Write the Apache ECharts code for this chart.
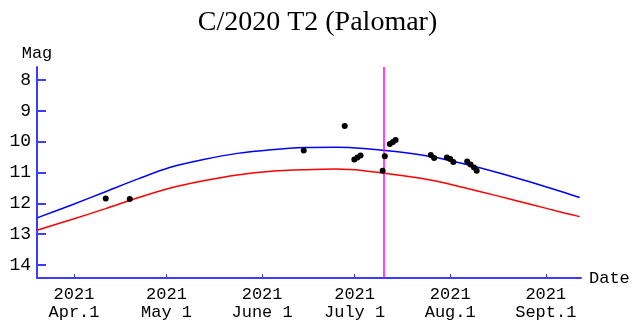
<!DOCTYPE html>
<html>
<head>
<meta charset="utf-8">
<script src="https://cdn.jsdelivr.net/npm/echarts@6/dist/echarts.min.js"></script>
<style>
  html, body { margin: 0; padding: 0; background: #ffffff; }
  #chart { width: 635px; height: 322px; }
</style>
</head>
<body>
<div id="chart"></div>
<script>
// Predicted magnitude curves (shared date grid)
const curveDates = ['2021-03-20', '2021-03-31', '2021-04-11', '2021-04-22', '2021-05-02', '2021-05-13',
  '2021-05-24', '2021-06-04', '2021-06-15', '2021-06-25', '2021-07-04', '2021-07-15',
  '2021-07-26', '2021-08-05', '2021-08-16', '2021-08-27', '2021-09-07', '2021-09-12'];
const blueMag = [12.47, 12.06, 11.63, 11.20, 10.84, 10.58, 10.38, 10.26, 10.19, 10.18, 10.22, 10.33,
  10.49, 10.71, 10.99, 11.31, 11.65, 11.81];
const redMag = [12.87, 12.53, 12.18, 11.81, 11.51, 11.27, 11.08, 10.96, 10.91, 10.89, 10.94, 11.08,
  11.25, 11.48, 11.75, 12.03, 12.31, 12.43];

// Observed magnitudes
const obsDates = ['2021-04-11T07:00', '2021-04-19T02:00', '2021-06-14T12:00', '2021-06-27T19:00',
  '2021-06-30T22:00', '2021-07-01T22:00', '2021-07-02T22:00', '2021-07-10T02:00', '2021-07-10T19:00',
  '2021-07-12T10:00', '2021-07-13T10:00', '2021-07-14T07:00', '2021-07-25T17:00', '2021-07-26T19:00',
  '2021-07-30T22:00', '2021-08-01T00:00', '2021-08-02T00:00', '2021-08-06T12:00', '2021-08-07T14:00',
  '2021-08-08T17:00', '2021-08-09T14:00'];
const obsMag = [11.84, 11.86, 10.29, 9.49, 10.58, 10.51, 10.45, 10.94, 10.47, 10.08, 10.01, 9.95,
  10.43, 10.53, 10.51, 10.56, 10.66, 10.64, 10.74, 10.84, 10.94];

// Current date marker
const markerDate = '2021-07-10T14:00';

// Axis ranges and ticks
const xStart = '2021-03-20';
const xEnd = '2021-09-12T10:00';
const tickDates = ['2021-04-01', '2021-05-01', '2021-06-01', '2021-07-01', '2021-08-01', '2021-09-01'];
const tickYears = ['2021', '2021', '2021', '2021', '2021', '2021'];
const tickMonths = ['Apr.1', 'May 1', 'June 1', 'July 1', 'Aug.1', 'Sept.1'];
const magMin = 7.58;
const magMax = 14.42;
const magTicks = [8, 9, 10, 11, 12, 13, 14];

// Dates are placed on a numeric (millisecond) axis
const t = s => echarts.time.parse(s).getTime();
const tickTimes = tickDates.map(t);
const pair = (dates, vals) => dates.map((d, i) => [t(d), vals[i]]);

const axisBlue = '#3c3cff';
const monoFont = '"Liberation Mono", "DejaVu Sans Mono", monospace';

const chart = echarts.init(document.getElementById('chart'), null, { renderer: 'canvas' });
chart.setOption({
  animation: false,
  backgroundColor: '#ffffff',
  title: {
    text: 'C/2020 T2 (Palomar)',
    left: 'center',
    top: 4,
    textStyle: { fontFamily: '"Liberation Serif", "DejaVu Serif", serif', fontSize: 28, fontWeight: 'normal', color: '#000' }
  },
  grid: { left: 37, right: 54, top: 67, bottom: 44, containLabel: false, outerBoundsMode: 'none' },
  xAxis: {
    type: 'value',
    min: t(xStart),
    max: t(xEnd),
    name: 'Date',
    nameLocation: 'end',
    nameGap: 8,
    nameTextStyle: { fontFamily: monoFont, fontSize: 17, color: '#000', verticalAlign: 'middle' },
    axisLine: { show: true, lineStyle: { color: axisBlue, width: 2 } },
    axisTick: { show: true, inside: true, length: 4, customValues: tickTimes, lineStyle: { color: axisBlue, width: 1 } },
    axisLabel: {
      customValues: tickTimes,
      margin: 7,
      fontFamily: monoFont,
      fontSize: 17,
      lineHeight: 18,
      color: '#000',
      formatter: v => {
        const i = tickTimes.indexOf(v);
        return i < 0 ? '' : tickYears[i] + '\n' + tickMonths[i];
      }
    },
    splitLine: { show: false }
  },
  yAxis: {
    type: 'value',
    inverse: true,
    min: magMin,
    max: magMax,
    name: 'Mag',
    nameLocation: 'start',
    nameGap: 5,
    nameTextStyle: { fontFamily: monoFont, fontSize: 17, color: '#000', align: 'center' },
    axisLine: { show: true, lineStyle: { color: axisBlue, width: 2 } },
    axisTick: { show: true, inside: true, length: 9, customValues: magTicks, lineStyle: { color: axisBlue, width: 2 } },
    axisLabel: {
      customValues: magTicks,
      margin: 6,
      fontFamily: monoFont,
      fontSize: 18,
      color: '#000'
    },
    splitLine: { show: false }
  },
  series: [
    {
      name: 'blue',
      type: 'line',
      data: pair(curveDates, blueMag),
      smooth: 0.3,
      showSymbol: false,
      lineStyle: { color: '#0000ff', width: 1.5 },
      z: 2
    },
    {
      name: 'red',
      type: 'line',
      data: pair(curveDates, redMag),
      smooth: 0.3,
      showSymbol: false,
      lineStyle: { color: '#ff0000', width: 1.5 },
      z: 2,
      markLine: {
        silent: true,
        symbol: 'none',
        label: { show: false },
        lineStyle: { color: '#ff00ff', width: 1.5, type: 'solid' },
        data: [{ xAxis: t(markerDate) }]
      }
    },
    {
      name: 'obs',
      type: 'scatter',
      data: pair(obsDates, obsMag),
      symbol: 'circle',
      symbolSize: 6,
      itemStyle: { color: '#000000', opacity: 1 },
      z: 5
    }
  ]
});
</script>
</body>
</html>
